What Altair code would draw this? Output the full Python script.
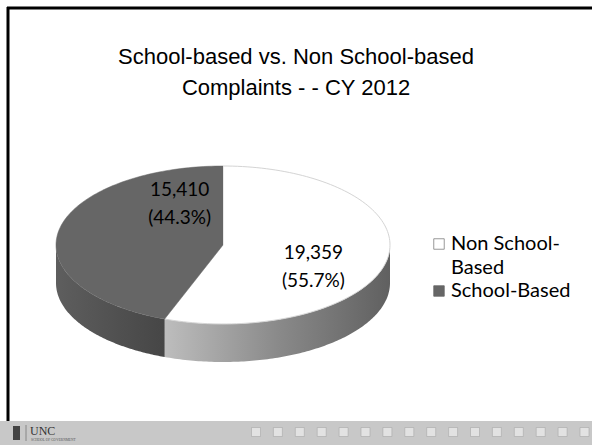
import altair as alt
import pandas as pd

# ---- data ----
categories = ["Non School-Based", "School-Based"]
counts = [19359, 15410]
slice_colors = ["#ffffff", "#666666"]
title_lines = ["School-based vs. Non School-based", "Complaints - - CY 2012"]

# ---- layout (pixels) ----
W, H = 592, 445
CX, CY, RA, RB, DEPTH = 223, 245, 167, 79, 38
N = 120

df = pd.DataFrame({"category": categories, "count": counts,
                   "idx": list(range(len(categories)))})

xs = alt.Scale(domain=[0, W], nice=False, zero=False)
ys = alt.Scale(domain=[0, H], nice=False, zero=False, reverse=True)
X = lambda f: alt.X(f, type="quantitative", scale=xs, axis=None)
Y = lambda f: alt.Y(f, type="quantitative", scale=ys, axis=None)

# ---- background decorations ----
footer = alt.Chart(pd.DataFrame({"a": [0]})).mark_rect(color="#c8c8c8").encode(
    x=alt.value(0), x2=alt.value(W), y=alt.value(421), y2=alt.value(H))
frame_left = alt.Chart(pd.DataFrame({"a": [0]})).mark_rule(color="#000000", strokeWidth=3).encode(
    x=alt.value(8), y=alt.value(7), y2=alt.value(421))
frame_top = alt.Chart(pd.DataFrame({"a": [0]})).mark_rule(color="#000000", strokeWidth=3).encode(
    x=alt.value(7), x2=alt.value(W), y=alt.value(8))
squares = alt.Chart(alt.sequence(0, 16, as_="i")).transform_calculate(
    sx="256 + datum.i * 21.9", sy="432").mark_square(
    size=81, fill="#e2e2e2", stroke="#a8a8a8", strokeWidth=0.6, opacity=1).encode(
    x=X("sx"), y=Y("sy"))
logo_icon = alt.Chart(pd.DataFrame({"a": [0]})).mark_rect(color="#444444").encode(
    x=alt.value(13), x2=alt.value(20), y=alt.value(426), y2=alt.value(440))
logo_sep = alt.Chart(pd.DataFrame({"a": [0]})).mark_rule(color="#777777", strokeWidth=0.8).encode(
    x=alt.value(26), y=alt.value(425), y2=alt.value(441))
logo_text = alt.Chart(pd.DataFrame({"t": ["UNC"]})).mark_text(
    font="Liberation Serif", fontSize=12, align="left", baseline="alphabetic", color="#333333").encode(
    x=alt.value(30), y=alt.value(435), text="t:N")
logo_sub = alt.Chart(pd.DataFrame({"t": ["SCHOOL OF GOVERNMENT"]})).mark_text(
    font="Liberation Serif", fontSize=3.5, align="left", baseline="middle", color="#555555").encode(
    x=alt.value(31), y=alt.value(440), text="t:N")

# ---- title ----
title = alt.Chart(pd.DataFrame({"line": title_lines, "row": [0, 1]})).transform_calculate(
    tx=str(W / 2), ty="57 + datum.row * 31").mark_text(
    font="Liberation Sans", fontSize=22, color="#000000", baseline="middle", align="center").encode(
    x=X("tx"), y=Y("ty"), text="line:N")

# ---- pie ----
pie_base = alt.Chart(df).transform_joinaggregate(total="sum(count)").transform_window(
    cum="sum(count)", sort=[alt.SortField("idx")], frame=[None, 0]
).transform_calculate(
    start="(datum.cum - datum.count) / datum.total",
    end="datum.cum / datum.total",
)

top = pie_base.transform_calculate(k=f"sequence(-1, {N + 1})").transform_flatten(["k"]).transform_calculate(
    ang=f"2*PI*(datum.start + (datum.end - datum.start) * max(datum.k, 0) / {N})"
).transform_calculate(
    px=f"datum.k < 0 ? {CX} : {CX} + {RA} * sin(datum.ang)",
    py=f"datum.k < 0 ? {CY} : {CY} - {RB} * cos(datum.ang)",
)

wall = pie_base.transform_calculate(
    lo="max(datum.start, 0.25)", hi="min(datum.end, 0.75)"
).transform_filter("datum.lo < datum.hi").transform_calculate(
    k=f"sequence(0, {N + 1})").transform_flatten(["k"]).transform_calculate(
    ang=f"2*PI*(datum.lo + (datum.hi - datum.lo) * datum.k / {N})"
).transform_calculate(
    px=f"{CX} + {RA} * sin(datum.ang)",
    py=f"{CY} - {RB} * cos(datum.ang)",
).transform_calculate(py2=f"datum.py + {DEPTH}")

wall_grads = [
    alt.Gradient(gradient="linear", x1=0, x2=1, y1=0, y2=0,
                 stops=[alt.GradientStop(color="#bdbdbd", offset=0),
                        alt.GradientStop(color="#8a8a8a", offset=0.5),
                        alt.GradientStop(color="#606060", offset=1)]),
    alt.Gradient(gradient="linear", x1=0, x2=1, y1=0, y2=0,
                 stops=[alt.GradientStop(color="#5e5e5e", offset=0),
                        alt.GradientStop(color="#464646", offset=1)]),
]

layers = [footer, squares, logo_icon, logo_sep, logo_text, logo_sub, frame_left, frame_top, title]

for i in range(len(categories)):
    layers.append(
        wall.transform_filter(f"datum.idx == {i}").mark_area(color=wall_grads[i], opacity=1).encode(
            x=X("px"), y=Y("py"), y2="py2:Q")
    )
for i in range(len(categories)):
    layers.append(
        top.transform_filter(f"datum.idx == {i}").mark_line(
            fill=slice_colors[i], stroke="#d4d4d4" if i == 0 else slice_colors[i],
            strokeWidth=1 if i == 0 else 0.5, fillOpacity=1).encode(
            x=X("px"), y=Y("py"), order="k:Q")
    )

# ---- data labels ----
label_offsets = [(0, 0), (47, -47)]
label_base = pie_base.transform_calculate(
    mid="PI * (datum.start + datum.end)",
    lab="[format(datum.count, ',d'), '(' + format(datum.count / datum.total, '.1%') + ')']",
).transform_calculate(
    lx=f"{CX} + 0.55 * {RA} * sin(datum.mid)",
    ly=f"{CY} - 0.55 * {RB} * cos(datum.mid)",
)
for i in range(len(categories)):
    dx, dy = label_offsets[i]
    layers.append(
        label_base.transform_filter(f"datum.idx == {i}").mark_text(
            font="Lato", fontSize=19, color="#000000", align="center", baseline="middle",
            lineHeight=28, dx=dx, dy=dy).encode(x=X("lx"), y=Y("ly"), text="lab:N")
    )

# ---- legend ----
legend_base = alt.Chart(df).transform_calculate(
    lines="length(datum.category) > 12 && indexof(datum.category, '-') > 0 ? "
          "[substring(datum.category, 0, indexof(datum.category, '-') + 1), "
          "substring(datum.category, indexof(datum.category, '-') + 1)] : [datum.category]"
).transform_flatten(["lines"]).transform_window(
    li="row_number()", groupby=["category"], sort=[alt.SortField("idx")]
).transform_window(
    g="row_number()", sort=[alt.SortField("idx"), alt.SortField("li")]
).transform_calculate(
    ly="244 + (datum.g - 1) * 23.5", tx="451", sx="439"
)
legend_text = legend_base.mark_text(
    font="Lato", fontSize=20, color="#000000", align="left", baseline="middle").encode(
    x=X("tx"), y=Y("ly"), text="lines:N")
legend_sq = legend_base.transform_filter("datum.li == 1").mark_square(size=110, opacity=1, strokeWidth=0.8).encode(
    x=X("sx"), y=Y("ly"),
    fill=alt.Fill("category:N", scale=alt.Scale(domain=categories, range=slice_colors), legend=None),
    stroke=alt.Stroke("category:N", scale=alt.Scale(domain=categories, range=["#7f7f7f", "#666666"]), legend=None),
)
layers += [legend_sq, legend_text]

chart = alt.layer(*layers).properties(
    width=W, height=H, padding=0, autosize=alt.AutoSizeParams(type="none"),
    background="#ffffff",
).configure_view(stroke=None)

chart.save("out.html", embed_options={"renderer": "svg", "actions": False})
